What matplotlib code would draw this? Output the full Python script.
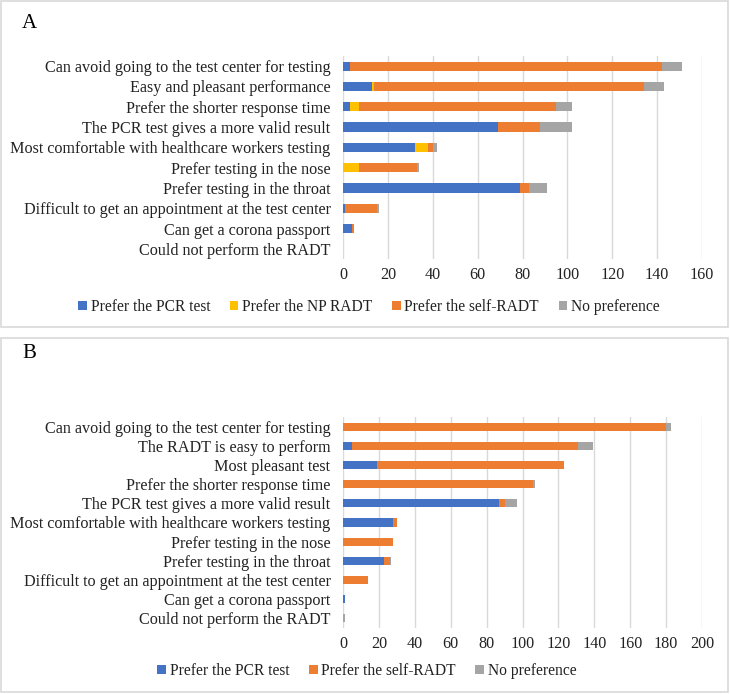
import numpy as np
import matplotlib.pyplot as plt
from matplotlib.patches import Rectangle

plt.rcParams['font.family'] = ['Liberation Serif', 'DejaVu Serif']

# panel A data
cats_a = ["Can avoid going to the test center for testing", "Easy and pleasant performance",
          "Prefer the shorter response time", "The PCR test gives a more valid result",
          "Most comfortable with healthcare workers testing", "Prefer testing in the nose",
          "Prefer testing in the throat", "Difficult to get an appointment at the test center",
          "Can get a corona passport", "Could not perform the RADT"]
pcr_a = [3, 13, 3, 69, 32, 0, 79, 1, 4, 0]
np_a = [0, 1, 4, 0, 6, 7, 0, 0, 0, 0]
self_a = [139, 120, 88, 19, 2, 26, 4, 14, 1, 0]
nopref_a = [9, 9, 7, 14, 2, 1, 8, 1, 0, 0]

# panel B data
cats_b = ["Can avoid going to the test center for testing", "The RADT is easy to perform",
          "Most pleasant test", "Prefer the shorter response time",
          "The PCR test gives a more valid result", "Most comfortable with healthcare workers testing",
          "Prefer testing in the nose", "Prefer testing in the throat",
          "Difficult to get an appointment at the test center", "Can get a corona passport",
          "Could not perform the RADT"]
pcr_b = [0, 5, 19, 0, 87, 28, 0, 23, 0, 1, 0]
self_b = [180, 126, 104, 106, 3, 2, 28, 3, 14, 0, 0]
nopref_b = [3, 8, 0, 1, 7, 0, 0, 1, 0, 0, 1]

BLUE, YELLOW, ORANGE, GRAY = '#4472C4', '#FFC000', '#ED7D31', '#A5A5A5'
W, H = 730, 694
FS = 11.6

fig = plt.figure(figsize=(W / 100, H / 100), dpi=100)


def px_axes(left, top, right, bottom):
    return fig.add_axes([left / W, 1 - bottom / H, (right - left) / W, (bottom - top) / H])


def stacked(ax, cats, series, xmax, height):
    y = np.arange(len(cats))
    left = np.zeros(len(cats))
    handles = []
    for vals, color, label in series:
        b = ax.barh(y, vals, left=left, height=height, color=color, label=label, zorder=3)
        handles.append(b)
        left = left + np.array(vals)
    ax.set_xlim(0, xmax)
    ax.set_xticks(np.arange(0, xmax + 1, 20))
    ax.set_ylim(len(cats) - 0.5, -0.5)
    ax.set_yticks(y)
    ax.set_yticklabels(cats, fontsize=FS, color='#222222')
    ax.tick_params(axis='x', labelsize=FS, labelcolor='#222222', length=0, pad=6)
    ax.tick_params(axis='y', length=0, pad=9)
    ax.grid(axis='x', color='#D9D9D9', lw=1, zorder=0)
    for s in ax.spines.values():
        s.set_visible(False)
    return handles


ax_a = px_axes(343, 56, 702, 259)
h_a = stacked(ax_a, cats_a, [(pcr_a, BLUE, 'Prefer the PCR test'),
                             (np_a, YELLOW, 'Prefer the NP RADT'),
                             (self_a, ORANGE, 'Prefer the self-RADT'),
                             (nopref_a, GRAY, 'No preference')], 160, 0.45)

ax_b = px_axes(343, 417, 702, 628)
h_b = stacked(ax_b, cats_b, [(pcr_b, BLUE, 'Prefer the PCR test'),
                             (self_b, ORANGE, 'Prefer the self-RADT'),
                             (nopref_b, GRAY, 'No preference')], 200, 0.42)

leg_kw = dict(loc='center', ncol=4, frameon=False, fontsize=11.2, handlelength=0.55,
              handleheight=0.55, handletextpad=0.25, columnspacing=1.25,
              labelcolor='#222222')
fig.legend(handles=h_a, bbox_to_anchor=(369 / W, 1 - 307 / H), **leg_kw)
fig.legend(handles=h_b, bbox_to_anchor=(367 / W, 1 - 671 / H), **leg_kw)

fig.text(22 / W, 1 - 23 / H, 'A', fontsize=15, va='center', ha='left')
fig.text(22 / W, 1 - 353 / H, 'B', fontsize=15, va='center', ha='left')

# panel borders
for top, bottom in [(1, 327), (338, 692)]:
    fig.patches.append(Rectangle((1 / W, 1 - bottom / H), 727 / W, (bottom - top) / H,
                                 transform=fig.transFigure, fill=False,
                                 edgecolor='#D9D9D9', lw=1.2))

fig.savefig('out.png', dpi=100)
